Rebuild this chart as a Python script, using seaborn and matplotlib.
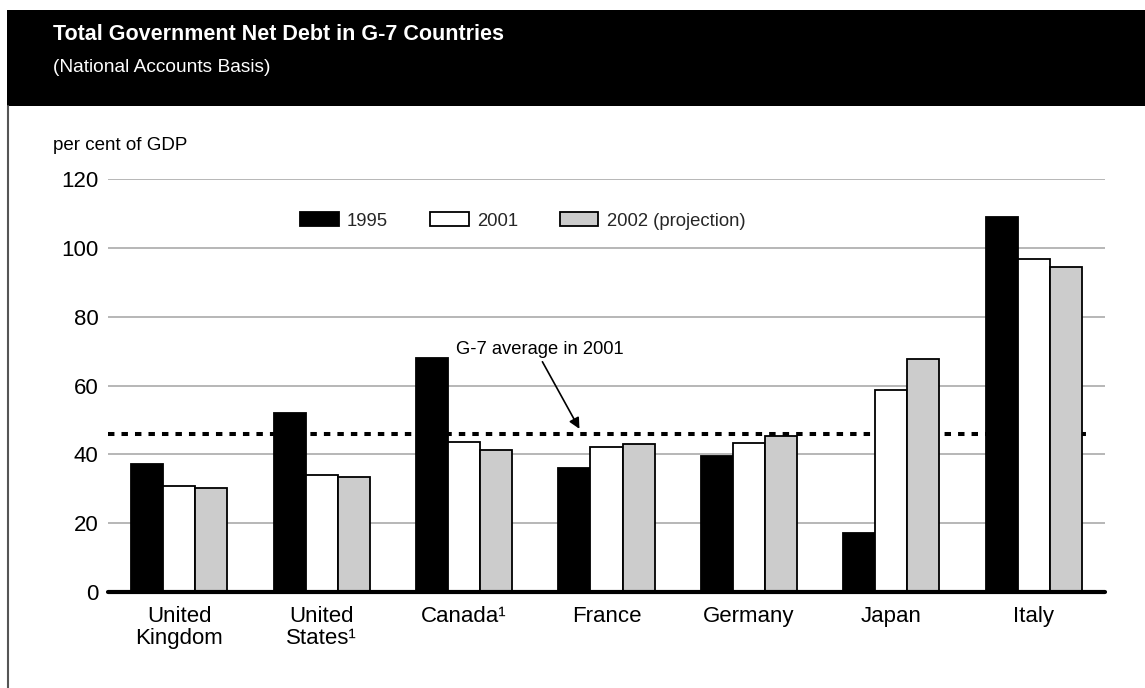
import matplotlib
matplotlib.use("Agg")
import matplotlib.pyplot as plt
from matplotlib.patches import Rectangle
from matplotlib.lines import Line2D
import seaborn as sns
import pandas as pd

# ---- data ----
countries = ["United\nKingdom", "United\nStates\u00b9", "Canada\u00b9", "France", "Germany", "Japan", "Italy"]
series_names = ["1995", "2001", "2002 (projection)"]
v1995 = [37.1, 52.1, 68.1, 36.1, 39.6, 17.0, 108.9]
v2001 = [30.9, 34.0, 43.7, 42.2, 43.4, 58.6, 96.7]
v2002 = [30.2, 33.4, 41.2, 42.9, 45.3, 67.8, 94.3]
g7_avg_2001 = 46.0
yticks = [0, 20, 40, 60, 80, 100, 120]

title = "Total Government Net Debt in G-7 Countries"
subtitle = "(National Accounts Basis)"
ylabel = "per cent of GDP"
annotation = "G-7 average in 2001"

rows = []
for name, vals in zip(series_names, [v1995, v2001, v2002]):
    for c, v in zip(countries, vals):
        rows.append({"Country": c, "Year": name, "Value": v})
df = pd.DataFrame(rows)

sns.set_theme(style="white")
plt.rcParams["font.family"] = ["Liberation Sans", "DejaVu Sans"]

W, H = 1145, 688
fig = plt.figure(figsize=(W / 100, H / 100), dpi=100)
ax = fig.add_axes([108 / W, 1 - 592 / H, (1105 - 108) / W, (592 - 179) / H])

sns.barplot(data=df, x="Country", y="Value", hue="Year", order=countries,
            hue_order=series_names, palette=["black", "white", "#cccccc"],
            edgecolor="black", linewidth=1.3, width=0.675, saturation=1,
            ax=ax, legend=True)

ax.set_xlim(-0.5, 6.5)
ax.set_ylim(0, 120)
ax.set_yticks(yticks)
ax.set_yticklabels([str(t) for t in yticks], fontsize=16, color="black")
ax.tick_params(axis="y", length=0, pad=7)
ax.tick_params(axis="x", length=0, pad=10, labelsize=16, labelcolor="black")
for lab in ax.get_xticklabels():
    lab.set_linespacing(1.1)
ax.set_xlabel("")
ax.set_ylabel("")
for s in ax.spines.values():
    s.set_visible(False)
ax.set_axisbelow(True)
ax.yaxis.grid(True, color="#aaaaaa", lw=1.2)
ax.xaxis.grid(False)
ax.patch.set_alpha(0)

# G-7 average dotted line (behind bars)
ax.axhline(g7_avg_2001, xmin=0, xmax=0.982, color="black", lw=2.9,
           linestyle=(0, (1.6, 1.75)), zorder=0.8)
# zero line
ax.axhline(0, color="black", lw=3, zorder=5, clip_on=False)

# annotation
ax.annotate("", xy=(2.81, 47.4), xytext=(2.55, 66.9),
            arrowprops=dict(arrowstyle="-|>", color="black", lw=1.2,
                            mutation_scale=16, shrinkA=0, shrinkB=0))
ax.text(1.94, 70.6, annotation, fontsize=13.2, va="center", ha="left", color="black")

# legend
handles, labels = ax.get_legend_handles_labels()
ax.legend(handles, labels, loc="center left",
          bbox_to_anchor=(300 / W, 1 - 221 / H), bbox_transform=fig.transFigure,
          ncol=3, frameon=False, fontsize=13.3, handlelength=2.1,
          handleheight=0.8, handletextpad=0.45, columnspacing=2.25,
          borderpad=0, borderaxespad=0)

# header band
fig.patches.append(Rectangle((7 / W, 1 - 106 / H), 1 - 7 / W, 96 / H,
                             transform=fig.transFigure, facecolor="black",
                             edgecolor="none", zorder=0))
fig.lines.append(Line2D([8 / W, 8 / W], [0, 1 - 106 / H], transform=fig.transFigure,
                        color="#555555", lw=1.5))
fig.text(53 / W, 1 - 34 / H, title, color="white", fontsize=15.5, fontweight="bold",
         va="center", ha="left")
fig.text(53 / W, 1 - 67 / H, subtitle, color="white", fontsize=13.8,
         va="center", ha="left")
fig.text(53 / W, 1 - 145 / H, ylabel, fontsize=13.5, va="center", ha="left", color="black")

fig.savefig("out.png", dpi=100, facecolor="white")
